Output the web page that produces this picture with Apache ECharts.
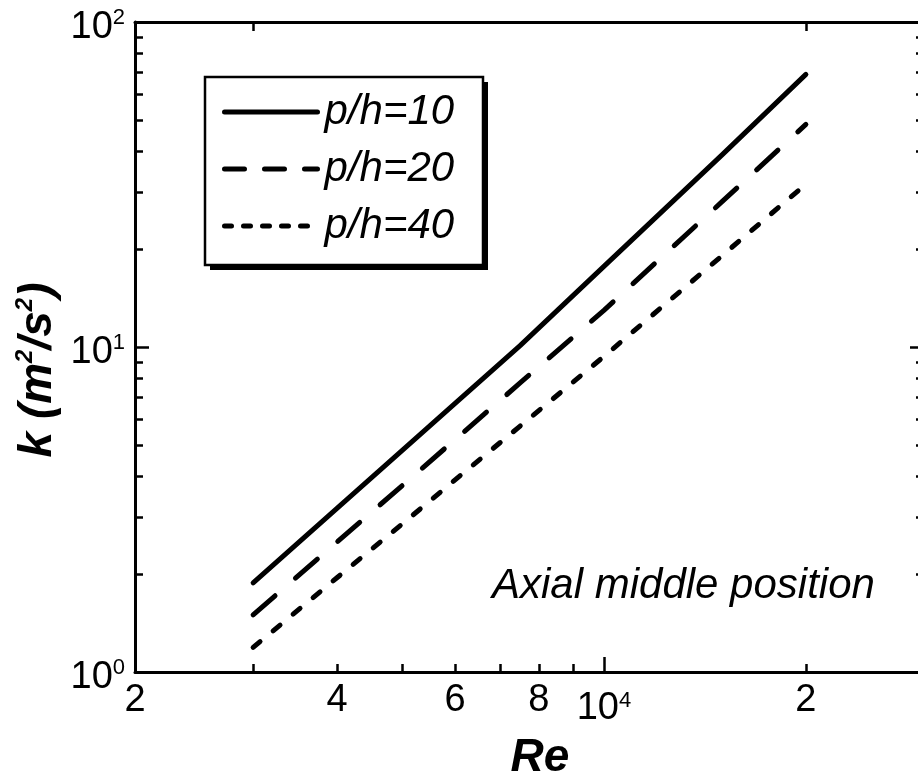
<!DOCTYPE html>
<html><head><meta charset="utf-8">
<script src="https://cdn.jsdelivr.net/npm/echarts@6/dist/echarts.min.js"></script>
<style>html,body{margin:0;padding:0;background:#fff}#c{width:918px;height:775px}</style>
</head><body><div id="c"></div>
<script>
// ---- data ----
const reynolds = [3000, 4000, 5000, 6000, 7500, 10000, 15000, 20000];
const kPh10 = [1.88, 3.19, 4.80, 6.71, 10.1, 17.7, 39.0, 69.0];
const kPh20 = [1.50, 2.51, 3.74, 5.19, 7.75, 12.97, 28.0, 48.4];
const kPh40 = [1.19, 1.95, 2.85, 3.90, 5.71, 9.35, 19.1, 31.7];
const seriesNames = ['p/h=10', 'p/h=20', 'p/h=40'];
const xLabelValues = [2000, 4000, 6000, 8000, 10000, 20000];
const xLabelText = ['{b|2}', '{b|4}', '{b|6}', '{b|8}', '{e|10}{es|4}', '{b|2}'];
const xMinorTicks = [3000, 4000, 5000, 6000, 7000, 8000, 9000, 20000];
const xMajorTicks = [10000];
const xTopTicks = [3000, 20000];
const yLabelValues = [1, 10, 100];
const yLabelText = ['{b|10}{s|0}', '{b|10}{s|1}', '{b|10}{s|2}'];
const yMinorTicks = [2, 3, 4, 5, 6, 7, 8, 9, 20, 30, 40, 50, 60, 70, 80, 90];
const yMajorTicks = [10];
const xTitle = 'Re';
const yTitle = '{t|k (m}{u|2}{t|/s}{u|2}{t|)}';
const annotation = 'Axial middle position';

const FONT = '"Liberation Sans", Arial, Helvetica, sans-serif';
const chart = echarts.init(document.getElementById('c'), null, {renderer: 'canvas'});

function pick(values, texts, v) {
  let best = 0, bd = Infinity;
  values.forEach((x, i) => { const d = Math.abs(Math.log10(x) - Math.log10(v)); if (d < bd) { bd = d; best = i; } });
  return texts[best];
}
const richLbl = {
  b: {fontSize: 38, fontFamily: FONT, color: '#000', lineHeight: 40, verticalAlign: 'bottom'},
  s: {fontSize: 22, fontFamily: FONT, color: '#000', lineHeight: 22, verticalAlign: 'top'},
  e: {fontSize: 38, fontFamily: FONT, color: '#000', lineHeight: 48, verticalAlign: 'bottom'},
  es: {fontSize: 22, fontFamily: FONT, color: '#000', lineHeight: 22, verticalAlign: 'top', padding: [10, 0, 0, 0]}
};
const lineBlack = {show: true, lineStyle: {color: '#000', width: 3}};
function xAx(pos, ticks, len, line, labels) {
  return {
    type: 'log', logBase: 10, min: 2000, max: 30000, position: pos, gridIndex: 0,
    axisLine: line ? lineBlack : {show: false},
    axisTick: {show: true, inside: true, length: len, customValues: ticks, lineStyle: {color: '#000', width: 2.5}},
    minorTick: {show: false},
    axisLabel: labels ? {show: true, customValues: xLabelValues, margin: 8, verticalAlign: 'top',
      formatter: v => pick(xLabelValues, xLabelText, v), rich: richLbl} : {show: false},
    splitLine: {show: false}
  };
}
function yAx(pos, ticks, len, line, labels) {
  return {
    type: 'log', logBase: 10, min: 1, max: 100, position: pos, gridIndex: 0,
    axisLine: line ? lineBlack : {show: false},
    axisTick: {show: true, inside: true, length: len, customValues: ticks, lineStyle: {color: '#000', width: 2.5}},
    minorTick: {show: false},
    axisLabel: labels ? {show: true, customValues: yLabelValues, margin: 10, padding: [10, 0, 0, 0],
      formatter: v => pick(yLabelValues, yLabelText, v), rich: richLbl} : {show: false},
    splitLine: {show: false}
  };
}
function pairs(ys) { return reynolds.map((x, i) => [x, ys[i]]); }
const lineBase = {type: 'line', xAxisIndex: 0, yAxisIndex: 0, showSymbol: false, symbol: 'none', smooth: false, silent: true};
const dashTypes = ['solid', [29, 27], [9, 17]];
const legendDashTypes = ['solid', [20, 20], [7, 12]];

chart.setOption({
  animation: false,
  backgroundColor: '#fff',
  grid: {left: 135, top: 22, width: 789, height: 650, outerBoundsMode: 'none', containLabel: false},
  xAxis: [
    xAx('bottom', xMinorTicks, 8, true, true),
    xAx('bottom', xMajorTicks, 15, false, false),
    xAx('top', xTopTicks, 9, true, false)
  ],
  yAxis: [
    yAx('left', yMinorTicks, 8, true, true),
    yAx('left', yMajorTicks, 14, false, false),
    yAx('right', yMinorTicks, 8, true, false),
    yAx('right', yMajorTicks, 14, false, false)
  ],
  legend: {
    orient: 'vertical', left: 205, top: 77, z: 10,
    data: seriesNames.map((n, i) => ({name: n,
      lineStyle: {color: '#000', width: 5, type: legendDashTypes[i], cap: 'round'},
      itemStyle: {opacity: 0, color: 'transparent', borderWidth: 0}})),
    itemWidth: 93, itemHeight: 14, itemGap: 15,
    padding: [14, 30, 18, 17],
    lineStyle: {width: 5},
    itemStyle: {opacity: 0},
    textStyle: {fontFamily: FONT, fontStyle: 'italic', fontSize: 42, color: '#000', lineHeight: 42, padding: [0, 0, 0, 2]}
  },
  series: seriesNames.map((n, i) => Object.assign({}, lineBase, {
    name: n, data: pairs([kPh10, kPh20, kPh40][i]),
    lineStyle: {color: '#000', width: 5, type: dashTypes[i], cap: 'round', join: 'round'},
    itemStyle: {color: '#000'}
  })),
  graphic: [
    {type: 'rect', z: 5, shape: {x: 210, y: 82, width: 278, height: 188}, style: {fill: '#000'}},
    {type: 'rect', z: 6, shape: {x: 205, y: 77, width: 278, height: 188},
      style: {fill: '#fff', stroke: '#000', lineWidth: 2.5}},
    {type: 'text', x: 492, y: 586, style: {text: annotation, fill: '#000',
      font: 'italic 42px ' + FONT, align: 'left', verticalAlign: 'middle'}},
    {type: 'text', x: 540, y: 758, style: {text: xTitle, fill: '#000',
      font: 'italic bold 46px ' + FONT, align: 'center', verticalAlign: 'middle'}},
    {type: 'text', x: 37, y: 370, rotation: Math.PI / 2, style: {text: yTitle, fill: '#000',
      align: 'center', verticalAlign: 'middle',
      rich: {
        t: {fontSize: 46, fontWeight: 'bold', fontStyle: 'italic', fontFamily: FONT, fill: '#000', lineHeight: 48, verticalAlign: 'bottom'},
        u: {fontSize: 24, fontWeight: 'bold', fontStyle: 'italic', fontFamily: FONT, fill: '#000', lineHeight: 24, verticalAlign: 'top'}
      }}}
  ]
});
</script></body></html>
